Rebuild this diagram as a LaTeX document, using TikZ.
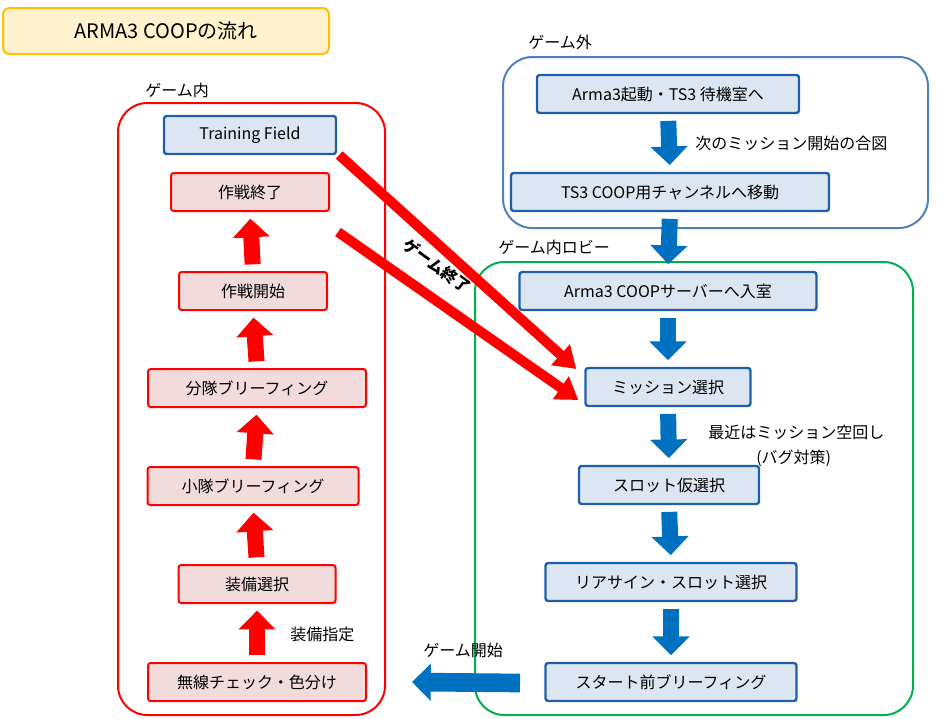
\documentclass[tikz,border=0pt]{standalone}
\usepackage{fontspec}
\setmainfont{Noto Sans CJK JP}
\usetikzlibrary{arrows.meta,calc}
\definecolor{bfill}{HTML}{DCE6F2}
\definecolor{bline}{HTML}{1F5FA8}
\definecolor{pfill}{HTML}{F2DCDB}
\definecolor{rline}{HTML}{FF0000}
\definecolor{barrow}{HTML}{0070C0}
\definecolor{gline}{HTML}{00B050}
\definecolor{gbox}{HTML}{4F81BD}
\tikzset{
 every node/.style={font=\fontsize{12}{14}\selectfont, inner sep=0pt},
 bnode/.style={draw=bline, fill=bfill, line width=1.8pt, rounded corners=2pt},
 rnode/.style={draw=rline, fill=pfill, line width=1.5pt, rounded corners=2pt},
 grp/.style={rounded corners=22pt, line width=1.5pt},
 lbl/.style={anchor=west},
 uarr/.style={draw=rline, line width=12pt, -{Triangle[length=14pt,width=27pt]}, shorten <=5pt, shorten >=5pt},
 darr/.style={draw=barrow, line width=12pt, -{Triangle[length=14pt,width=27pt]}, shorten <=5pt, shorten >=5pt},
 diag/.style={draw=rline, line width=7.5pt, -{Triangle[length=16pt,width=20pt]}},
}
\newcommand{\bx}[5]{\node[#1, minimum width=#4*0.75pt-1.5pt, minimum height=38*0.75pt] (#2) at (#3) {#5};}
\begin{document}
\begin{tikzpicture}[x=0.75pt,y=-0.75pt]
\useasboundingbox (0,0) rectangle (941,718);
% title
\node[draw={rgb,255:red,255;green,192;blue,0}, fill={rgb,255:red,255;green,242;blue,204}, line width=1.5pt, rounded corners=5pt, minimum width=326*0.75pt, minimum height=46*0.75pt, font=\fontsize{15}{17}\selectfont] (title) at (166,31) {ARMA3 COOPの流れ};
% groups
\draw[grp, draw=rline] (118,103) rectangle (385,715);
\node[lbl] (lin) at (145,90) {ゲーム内};
\draw[grp, draw=gbox] (503,57) rectangle (928,228);
\node[lbl] (lout) at (528,42) {ゲーム外};
\draw[grp, draw=gline] (475,262) rectangle (913,715);
\node[lbl] (llob) at (498,247) {ゲーム内ロビー};
% left nodes
\bx{bnode}{tf}{250,135}{174}{Training Field}
\bx{rnode}{end}{250,192}{160}{作戦終了}
\bx{rnode}{start}{253,291}{150}{作戦開始}
\bx{rnode}{sq}{257,388}{220}{分隊ブリーフィング}
\bx{rnode}{pl}{253,486}{213}{小隊ブリーフィング}
\bx{rnode}{eq}{257,584}{159}{装備選択}
\bx{rnode}{radio}{257,682}{220}{無線チェック・色分け}
\draw[uarr] (radio.north) -- (eq.south);
\draw[uarr] (eq.north) -- (pl.south);
\draw[uarr] (pl.north) -- (sq.south);
\draw[uarr] (sq.north) -- (start.south);
\draw[uarr] (start.north) -- (end.south);
\node[lbl] (eqs) at (290,634) {装備指定};
% right top
\bx{bnode}{boot}{668,94}{264}{Arma3起動・TS3 待機室へ}
\bx{bnode}{ts}{670,192}{320}{TS3 COOP用チャンネルへ移動}
\draw[darr] (boot.south) -- (ts.north);
\node[lbl] (sig) at (695,143) {次のミッション開始の合図};
% lobby
\bx{bnode}{srv}{668,291}{299}{Arma3 COOPサーバーへ入室}
\draw[darr] (ts.south) -- (srv.north);
\bx{bnode}{ms}{668,387}{167}{ミッション選択}
\bx{bnode}{slot}{669,485}{182}{スロット仮選択}
\bx{bnode}{rs}{671,582}{253}{リアサイン・スロット選択}
\bx{bnode}{brief}{671,682}{253}{スタート前ブリーフィング}
\draw[darr] (srv.south) -- (ms.north);
\draw[darr] (ms.south) -- (slot.north);
\draw[darr] (slot.south) -- (rs.north);
\draw[darr] (rs.south) -- (brief.north);
\node[lbl] (rec1) at (708,432) {最近はミッション空回し};
\node[lbl] (rec2) at (756,458) {(バグ対策)};
% game start arrow
\coordinate (gs) at (520,683);
\draw[draw=barrow, line width=14pt, -{Triangle[length=14pt,width=27pt]}] (gs) -- ($(radio.east)+(45,0)$);
\node[lbl] (gsl) at (423,650) {ゲーム開始};
% diagonal arrows
\draw[diag] (tf.east)++(2,20) -- ($(ms.west)+(-8,-18)$);
\draw[diag] ($(end.east)+(8,40)$) -- ($(ms.west)+(-6,13)$);
\node[rotate=-36, font=\bfseries\fontsize{12}{14}\selectfont] (gend) at (437,266) {ゲーム終了};
\end{tikzpicture}
\end{document}
